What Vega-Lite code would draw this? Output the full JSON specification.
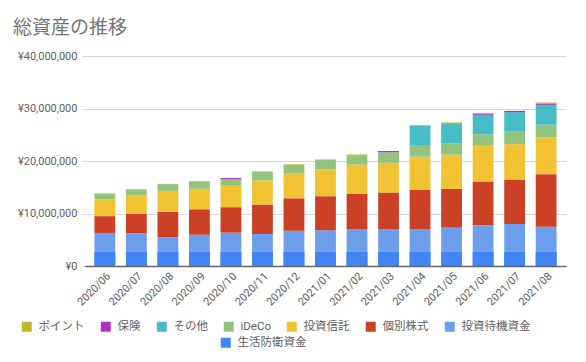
{
  "$schema": "https://vega.github.io/schema/vega-lite/v6.json",
  "width": 481,
  "height": 210,
  "autosize": {"type": "none"},
  "padding": {"left": 85, "top": 56, "right": 20, "bottom": 96},
  "background": "white",
  "config": {"font": "Roboto, 'Noto Sans CJK JP', sans-serif", "view": {"stroke": null}},
  "title": {"text": "総資産の推移", "anchor": "start", "frame": "group", "dx": -72, "offset": 12, "fontSize": 19, "fontWeight": "normal", "color": "#757575", "font": "'Noto Sans CJK JP', sans-serif"},
  "datasets": {
    "assets": [
      {"month": "2020/06", "生活防衛資金": 2700000, "投資待機資金": 3600000, "個別株式": 3200000, "投資信託": 3200000, "iDeCo": 1100000, "その他": 0, "保険": 0, "ポイント": 30000},
      {"month": "2020/07", "生活防衛資金": 2700000, "投資待機資金": 3500000, "個別株式": 3700000, "投資信託": 3500000, "iDeCo": 1200000, "その他": 0, "保険": 0, "ポイント": 50000},
      {"month": "2020/08", "生活防衛資金": 2700000, "投資待機資金": 2800000, "個別株式": 4800000, "投資信託": 4000000, "iDeCo": 1300000, "その他": 0, "保険": 0, "ポイント": 50000},
      {"month": "2020/09", "生活防衛資金": 2700000, "投資待機資金": 3250000, "個別株式": 4850000, "投資信託": 3900000, "iDeCo": 1400000, "その他": 0, "保険": 0, "ポイント": 100000},
      {"month": "2020/10", "生活防衛資金": 2700000, "投資待機資金": 3650000, "個別株式": 4850000, "投資信託": 4100000, "iDeCo": 1200000, "その他": 0, "保険": 250000, "ポイント": 0},
      {"month": "2020/11", "生活防衛資金": 2700000, "投資待機資金": 3400000, "個別株式": 5600000, "投資信託": 4600000, "iDeCo": 1600000, "その他": 0, "保険": 0, "ポイント": 100000},
      {"month": "2020/12", "生活防衛資金": 2700000, "投資待機資金": 4000000, "個別株式": 6200000, "投資信託": 4700000, "iDeCo": 1700000, "その他": 0, "保険": 0, "ポイント": 100000},
      {"month": "2021/01", "生活防衛資金": 2700000, "投資待機資金": 4100000, "個別株式": 6500000, "投資信託": 5100000, "iDeCo": 1800000, "その他": 0, "保険": 0, "ポイント": 100000},
      {"month": "2021/02", "生活防衛資金": 2700000, "投資待機資金": 4350000, "個別株式": 6750000, "投資信託": 5500000, "iDeCo": 1800000, "その他": 0, "保険": 0, "ポイント": 150000},
      {"month": "2021/03", "生活防衛資金": 2700000, "投資待機資金": 4350000, "個別株式": 6950000, "投資信託": 5650000, "iDeCo": 2000000, "その他": 0, "保険": 250000, "ポイント": 0},
      {"month": "2021/04", "生活防衛資金": 2700000, "投資待機資金": 4350000, "個別株式": 7500000, "投資信託": 6250000, "iDeCo": 2100000, "その他": 3800000, "保険": 0, "ポイント": 150000},
      {"month": "2021/05", "生活防衛資金": 2700000, "投資待機資金": 4600000, "個別株式": 7400000, "投資信託": 6500000, "iDeCo": 2200000, "その他": 3800000, "保険": 0, "ポイント": 150000},
      {"month": "2021/06", "生活防衛資金": 2700000, "投資待機資金": 5050000, "個別株式": 8350000, "投資信託": 6800000, "iDeCo": 2200000, "その他": 3700000, "保険": 250000, "ポイント": 0},
      {"month": "2021/07", "生活防衛資金": 2700000, "投資待機資金": 5300000, "個別株式": 8500000, "投資信託": 6700000, "iDeCo": 2500000, "その他": 3600000, "保険": 250000, "ポイント": 0},
      {"month": "2021/08", "生活防衛資金": 2700000, "投資待機資金": 4800000, "個別株式": 10000000, "投資信託": 7000000, "iDeCo": 2400000, "その他": 3800000, "保険": 250000, "ポイント": 200000}
    ],
    "cats": [
      {"category": "生活防衛資金", "rank": 1},
      {"category": "投資待機資金", "rank": 2},
      {"category": "個別株式", "rank": 3},
      {"category": "投資信託", "rank": 4},
      {"category": "iDeCo", "rank": 5},
      {"category": "その他", "rank": 6},
      {"category": "保険", "rank": 7},
      {"category": "ポイント", "rank": 8}
    ]
  },
  "data": {"name": "assets"},
  "transform": [
    {"fold": ["生活防衛資金", "投資待機資金", "個別株式", "投資信託", "iDeCo", "その他", "保険", "ポイント"], "as": ["category", "amount"]},
    {"lookup": "category", "from": {"data": {"name": "cats"}, "key": "category", "fields": ["rank"]}}
  ],
  "layer": [
    {
      "mark": {"type": "bar"},
      "encoding": {
        "x": {
          "field": "month", "type": "ordinal",
          "scale": {"paddingInner": 0.34, "paddingOuter": 0.3},
          "axis": {"title": null, "labelAngle": -45, "labelFontSize": 11, "labelColor": "#5f5f5f", "ticks": false, "domainColor": "#666666", "domainWidth": 1.5, "labelPadding": 4, "zindex": 1}
        },
        "y": {
          "field": "amount", "type": "quantitative", "stack": "zero",
          "scale": {"domain": [0, 40000000], "nice": false},
          "axis": {"title": null, "values": [0, 10000000, 20000000, 30000000, 40000000], "labelExpr": "'¥' + format(datum.value, ',')", "domain": false, "ticks": true, "tickSize": 3, "tickColor": "#d9d9d9", "gridColor": "#d9d9d9", "labelColor": "#5f5f5f", "labelFontSize": 11, "labelPadding": 5}
        },
        "color": {
          "field": "category", "type": "nominal",
          "scale": {
            "domain": ["ポイント", "保険", "その他", "iDeCo", "投資信託", "個別株式", "投資待機資金", "生活防衛資金"],
            "range": ["#bfb82a", "#ab30c4", "#46bdc6", "#93c47d", "#f1c232", "#cc4125", "#6d9eeb", "#4285f4"]
          },
          "legend": {"values": ["ポイント", "保険", "その他", "iDeCo", "投資信託", "個別株式", "投資待機資金"], "orient": "none", "legendX": -64, "legendY": 265, "direction": "horizontal", "columns": 7, "gridAlign": "none", "title": null, "symbolType": "square", "symbolSize": 100, "symbolStrokeWidth": 0, "labelFontSize": 11.5, "labelColor": "#5f5f5f", "labelOffset": 6, "columnPadding": 15}
        },
        "order": {"field": "rank", "type": "quantitative"}
      }
    },
    {
      "transform": [{"filter": "datum.category === '生活防衛資金'"}],
      "mark": {"type": "bar"},
      "encoding": {
        "x": {"field": "month", "type": "ordinal"},
        "y": {"field": "amount", "type": "quantitative"},
        "fill": {
          "field": "category", "type": "nominal",
          "scale": {"domain": ["生活防衛資金"], "range": ["#4285f4"]},
          "legend": {"orient": "none", "legendX": 135, "legendY": 281, "direction": "horizontal", "title": null, "symbolType": "square", "symbolSize": 100, "symbolStrokeWidth": 0, "labelFontSize": 11.5, "labelColor": "#5f5f5f", "labelOffset": 6}
        }
      }
    }
  ]
}
